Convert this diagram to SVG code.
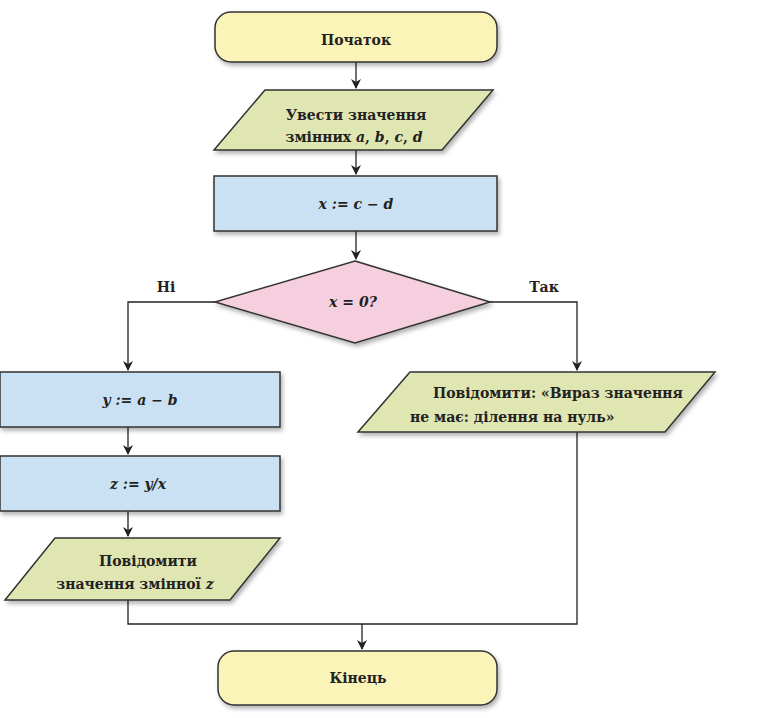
<svg xmlns="http://www.w3.org/2000/svg" width="781" height="718" viewBox="0 0 781 718">
<defs>
<marker id="ah" markerWidth="10" markerHeight="10" refX="9" refY="5" orient="auto" markerUnits="userSpaceOnUse"><path d="M0,0 L10,5 L0,10 L3,5 z" fill="#222"/></marker>
<filter id="sh" x="-5%" y="-10%" width="115%" height="130%"><feDropShadow dx="2" dy="3" stdDeviation="2" flood-color="#000" flood-opacity="0.3"/></filter>
</defs>
<style>
.s{stroke:#333;stroke-width:1.5;filter:url(#sh)}
.t{font-family:"DejaVu Serif","Liberation Serif",serif;font-weight:bold;font-size:14px;fill:#222;text-anchor:middle}
.i{font-style:italic}
.c{fill:none;stroke:#222;stroke-width:1.3}
</style>
<rect width="781" height="718" fill="#fff"/>
<g id="connectors">
<path class="c" d="M356,62 V88" marker-end="url(#ah)"/>
<path class="c" d="M356,150 V174" marker-end="url(#ah)"/>
<path class="c" d="M356,231 V259" marker-end="url(#ah)"/>
<path class="c" d="M215,302 H128 V370" marker-end="url(#ah)"/>
<path class="c" d="M490,302 H577 V370" marker-end="url(#ah)"/>
<path class="c" d="M128,427 V454" marker-end="url(#ah)"/>
<path class="c" d="M128,511 V536" marker-end="url(#ah)"/>
<path class="c" d="M128,600 V624 H577 V432"/>
<path class="c" d="M362,624 V649" marker-end="url(#ah)"/>
<text class="t" x="166" y="292">Ні</text>
<text class="t" x="544" y="292">Так</text>
</g>
<g id="start"><rect class="s" x="215" y="12" width="282" height="50" rx="16" fill="#fbf4b8"/><text class="t" x="356" y="45">Початок</text></g>
<g id="input"><polygon class="s" points="265,90 493,90 442,150 214,150" fill="#dfe6b2"/><text class="t" x="356" y="120">Увести значення</text><text class="t" x="354" y="142">змінних <tspan class="i">a</tspan>, <tspan class="i">b</tspan>, <tspan class="i">c</tspan>, <tspan class="i">d</tspan></text></g>
<g id="calcx"><rect class="s" x="214" y="176" width="283" height="55" fill="#cae1f3"/><text class="t i" x="356" y="209">x := c − d</text></g>
<g id="cond"><polygon class="s" points="355,261 490,302 355,343 215,302" fill="#f6cfdf"/><text class="t i" x="353" y="307">x = 0?</text></g>
<g id="calcy"><rect class="s" x="0" y="372" width="280" height="55" fill="#cae1f3"/><text class="t i" x="140" y="405">y := a − b</text></g>
<g id="calcz"><rect class="s" x="0" y="456" width="280" height="55" fill="#cae1f3"/><text class="t i" x="138" y="489">z := y/x</text></g>
<g id="outz"><polygon class="s" points="55,538 280,538 230,600 5,600" fill="#dfe6b2"/><text class="t" x="148" y="566">Повідомити</text><text class="t" x="135" y="589">значення змінної <tspan class="i">z</tspan></text></g>
<g id="outerr"><polygon class="s" points="410,372 715,372 665,432 358,432" fill="#dfe6b2"/><text class="t" x="433" y="398" style="text-anchor:start">Повідомити: «Вираз значення</text><text class="t" x="410" y="422" style="text-anchor:start">не має: ділення на нуль»</text></g>
<g id="end"><rect class="s" x="218" y="651" width="279" height="54" rx="16" fill="#fbf4b8"/><text class="t" x="358" y="683">Кінець</text></g>
</svg>
